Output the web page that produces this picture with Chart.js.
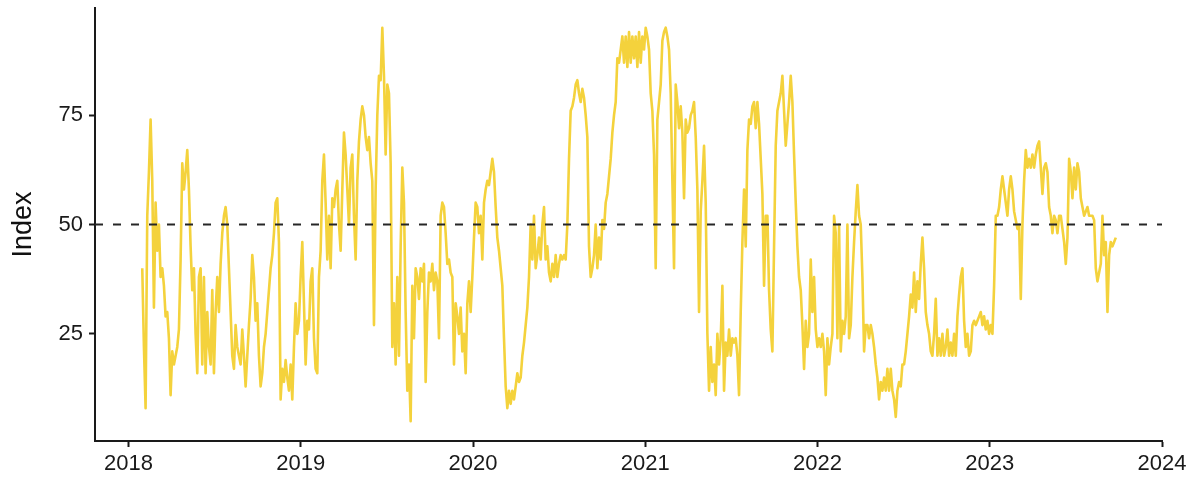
<!DOCTYPE html>
<html>
<head>
<meta charset="utf-8">
<title>Index</title>
<script src="https://cdn.jsdelivr.net/npm/chart.js"></script>
<style>
  body { margin: 0; background: #fff; }
  #wrap { width: 1198px; height: 479px; position: relative; }
</style>
</head>
<body>
<div id="wrap"><canvas id="indexChart"></canvas></div>
<script>
// samples roughly every 3.5 days, starting end of Jan 2018
const startYear = 2018.0794;
const stepYears = 0.0096787;

// Feb 2018 - Nov 2018
const seg1 = [40,22,8,52,62,74,60,31,55,44,50,38,40,36,29,30,24,11,21,18,
  20,22,26,42,64,58,62,67,58,45,35,40,25,16,38,40,18,38,16,30,
  22,18,35,16,30,38,30,41,48,52,54,50,40,30,20,17,27,22,20,18,
  26,20,13,20,27,33,43,38,28,32,20,13,16,22,25,30,35,40,43,48,
  55,56,46];
// Nov 2018 - Dec 2019
const seg2 = [10,17,14,19,15,12,18,10,22,32,25,28,38,46,32,18,28,26,37,40,
  24,17,16,38,44,60,66,55,42,52,40,56,54,58,60,50,44,58,71,66,
  58,50,63,66,52,42,60,69,74,77,75,70,67,70,64,60,27,58,75,84,
  83,95,84,66,82,80,64,22,32,18,38,20,45,63,55,30,12,18,5,36,
  24,40,38,33,40,37,41,14,30,39,37,41,35,39,37,24,52,55,54,48,
  41,42,39,38,18,32,29,25,31,21,25,16,32,37];
// Dec 2019 - Jan 2021
const seg3 = [30,38,47,55,54,48,52,42,55,58,60,59,62,65,62,54,47,44,40,36,
  24,13,8,12,9,12,10,13,16,14,15,20,23,27,31,38,50,42,52,40,
  43,47,42,50,54,42,45,39,37,41,38,43,38,41,43,42,43,42,50,65,
  76,77,79,82,83,80,78,81,79,75,70,45,38,40,43,50,40,47,42,51,
  49,55,57,61,65,71,75,78,88,87,90,93,87,93,86,94,87,93,88,93,
  86,94,87,93,90,95,93,90,80,76,66,40,74,78];
// Feb 2021 - Mar 2022
const seg4 = [82,92,94,95,93,90,80,60,40,82,78,72,77,71,56,74,71,72,75,76,
  78,70,58,30,53,60,68,55,25,12,22,14,18,11,25,18,24,36,12,23,
  20,26,20,24,23,24,20,11,30,46,58,45,67,74,73,77,78,72,78,73,
  65,57,36,52,52,35,26,21,45,68,76,78,80,84,76,68,73,78,84,78,
  66,55,45,38,35,27,17,28,22,25,42,30,38,26,22,24,22,25,21,11,
  24,18,22,25,52,48,24,50,21,28,25,29,50,24];
// Mar 2022 - Jan 2023
const seg5 = [27,38,46,53,59,52,50,38,21,27,27,24,27,25,22,18,15,10,14,12,
  15,12,17,12,17,12,10,6,12,14,13,18,18,21,25,29,34,31,39,30,
  37,33,41,47,40,30,27,25,21,20,25,33,20,24,20,25,20,22,26,20,
  23,20,25,20,29,34,38,40,28,22,25,20,21,27,28,27,28,29,30,27,
  29,26,28,25,27,25,36,52,52,54];
// Jan 2023 - Sep 2023
const seg6 = [58,61,58,55,52,58,61,58,53,51,49,50,33,50,60,67,63,65,63,66,
  63,66,68,69,63,57,63,64,62,54,52,48,52,51,48,52,52,49,46,41,
  47,65,62,56,63,58,64,62,56,54,52,53,54,52,52,52,51,40,37,39,
  41,52,43,46,30,43,46,45,46,47];

const yearTicks = [2018, 2019, 2020, 2021, 2022, 2023, 2024];
const indexTicks = [25, 50, 75];
const neutralLevel = 50;
const xMin = 2017.805, xMax = 2024;
const yMin = 0.5, yMax = 99.5;

const values = [].concat(seg1, seg2, seg3, seg4, seg5, seg6);
const series = values.map((v, i) => ({ x: startYear + i * stepYears, y: v }));

const fontFamily = "'Liberation Sans', Arial, Helvetica, sans-serif";
const axisColor = "#1a1a1a";

new Chart(document.getElementById("indexChart"), {
  type: "line",
  data: {
    datasets: [
      {
        label: "Neutral",
        data: [{ x: xMin, y: neutralLevel }, { x: xMax, y: neutralLevel }],
        borderColor: "#262626",
        borderWidth: 2.2,
        borderDash: [8, 10],
        pointRadius: 0,
      },
      {
        label: "Index",
        data: series,
        borderColor: "#F4D23C",
        borderWidth: 2.6,
        borderJoinStyle: "round",
        pointRadius: 0,
        tension: 0,
      },
    ],
  },
  options: {
    responsive: true,
    maintainAspectRatio: false,
    animation: false,
    layout: { autoPadding: false, padding: { top: 8, right: 36, left: 0, bottom: 0 } },
    plugins: { legend: { display: false }, tooltip: { enabled: false } },
    scales: {
      x: {
        type: "linear",
        min: xMin,
        max: xMax,
        afterBuildTicks: (s) => { s.ticks = yearTicks.map((v) => ({ value: v })); },
        afterFit: (s) => { s.height = 38; s.paddingLeft = 0; s.paddingRight = 0; },
        grid: { display: true, drawOnChartArea: false, drawTicks: true, tickLength: 6, tickColor: axisColor, tickWidth: 2 },
        border: { display: true, color: axisColor, width: 2 },
        ticks: {
          color: "#1a1a1a",
          font: { family: fontFamily, size: 22 },
          padding: 4,
          maxRotation: 0,
          autoSkip: false,
          callback: (v) => String(v),
        },
      },
      y: {
        min: yMin,
        max: yMax,
        afterBuildTicks: (s) => { s.ticks = indexTicks.map((v) => ({ value: v })); },
        afterFit: (s) => { s.width = 95; s.paddingTop = 0; s.paddingBottom = 0; },
        grid: { display: true, drawOnChartArea: false, drawTicks: true, tickLength: 6, tickColor: axisColor, tickWidth: 2 },
        border: { display: true, color: axisColor, width: 2 },
        ticks: {
          color: "#1a1a1a",
          font: { family: fontFamily, size: 22 },
          padding: 6,
          callback: (v) => String(v),
        },
        title: {
          display: true,
          text: "Index",
          color: "#111",
          font: { family: fontFamily, size: 27 },
          padding: { top: 7, bottom: 0 },
        },
      },
    },
  },
});
</script>
</body>
</html>
